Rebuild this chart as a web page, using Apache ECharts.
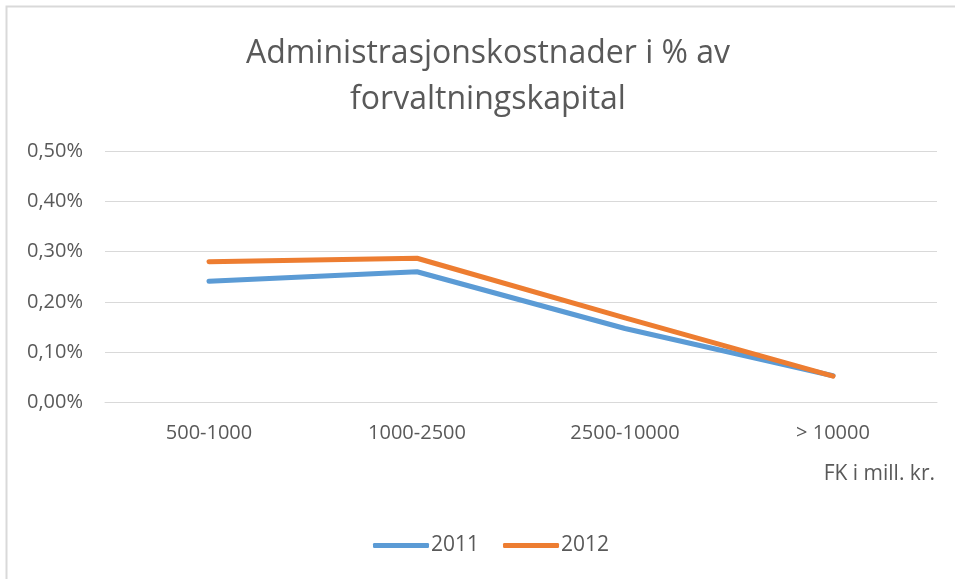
<!DOCTYPE html>
<html>
<head>
    <meta http-equiv="Content-Type" content="text/html; charset=utf-8">
    <title>Administrasjonskostnader</title>
    <script src="https://cdn.jsdelivr.net/npm/echarts@6/dist/echarts.min.js"></script>
    <style>
        html, body { margin: 0; padding: 0; background: #fff; }
        #chart { width: 955px; height: 579px; }
    </style>
</head>
<body>
    <div id="chart"></div>
    <script>
    // data (percent)
    var categories = ["500-1000", "1000-2500", "2500-10000", "> 10000"];
    var seriesNames = ["2011", "2012"];
    var values2011 = [0.241, 0.260, 0.147, 0.053];
    var values2012 = [0.280, 0.287, 0.168, 0.052];
    var yTicks = [0, 0.1, 0.2, 0.3, 0.4, 0.5];

    var textColor = "#595959";
    var font = "'Open Sans', 'Noto Sans', sans-serif";

    var chart = echarts.init(document.getElementById("chart"), null, { renderer: "canvas" });

    function fmtPct(v) {
        return v.toFixed(2).replace(".", ",") + "%";
    }

    chart.setOption({
        animation: false,
        color: ["#5B9BD5", "#ED7D31"],
        title: {
            text: "Administrasjonskostnader i % av\nforvaltningskapital",
            left: 483,
            textAlign: "center",
            top: 26,
            textStyle: {
                color: textColor,
                fontFamily: font,
                fontWeight: "normal",
                fontSize: 32,
                lineHeight: 46
            }
        },
        grid: { left: 105, right: 18, top: 151.3, bottom: 176.7, containLabel: false },
        legend: {
            data: seriesNames,
            bottom: 18,
            left: 368,
            itemWidth: 56,
            itemHeight: 5,
            itemGap: 24,
            icon: "roundRect",
            textStyle: { color: textColor, fontFamily: font, fontSize: 21, padding: [0, 0, 0, -3] }
        },
        xAxis: {
            type: "category",
            data: categories,
            boundaryGap: true,
            axisLine: { show: true, lineStyle: { color: "#D9D9D9", width: 1 } },
            axisTick: { show: false },
            axisLabel: { color: textColor, fontFamily: font, fontSize: 20, margin: 21 }
        },
        yAxis: {
            type: "value",
            min: 0,
            max: 0.5,
            interval: 0.1,
            axisLine: { show: false },
            axisTick: { show: false },
            splitLine: { lineStyle: { color: "#D9D9D9", width: 1 } },
            axisLabel: {
                color: textColor, fontFamily: font, fontSize: 20, margin: 22,
                formatter: function (v) {
                    for (var i = 0; i < yTicks.length; i++) {
                        if (Math.abs(yTicks[i] - v) < 1e-9) return fmtPct(yTicks[i]);
                    }
                    return "";
                }
            }
        },
        graphic: [{
            type: "rect",
            shape: { x: 6.5, y: 6.5, width: 1000, height: 700 },
            style: { fill: "none", stroke: "#D9D9D9", lineWidth: 2 },
            silent: true
        }, {
            type: "text",
            right: 20,
            top: 464,
            style: { text: "FK i mill. kr.", fill: textColor, font: "21px " + font }
        }],
        series: [{
            name: seriesNames[0],
            type: "line",
            data: values2011,
            symbol: "none",
            lineStyle: { width: 5, cap: "round", join: "round" }
        }, {
            name: seriesNames[1],
            type: "line",
            data: values2012,
            symbol: "none",
            lineStyle: { width: 5, cap: "round", join: "round" }
        }]
    });
    </script>
</body>
</html>
